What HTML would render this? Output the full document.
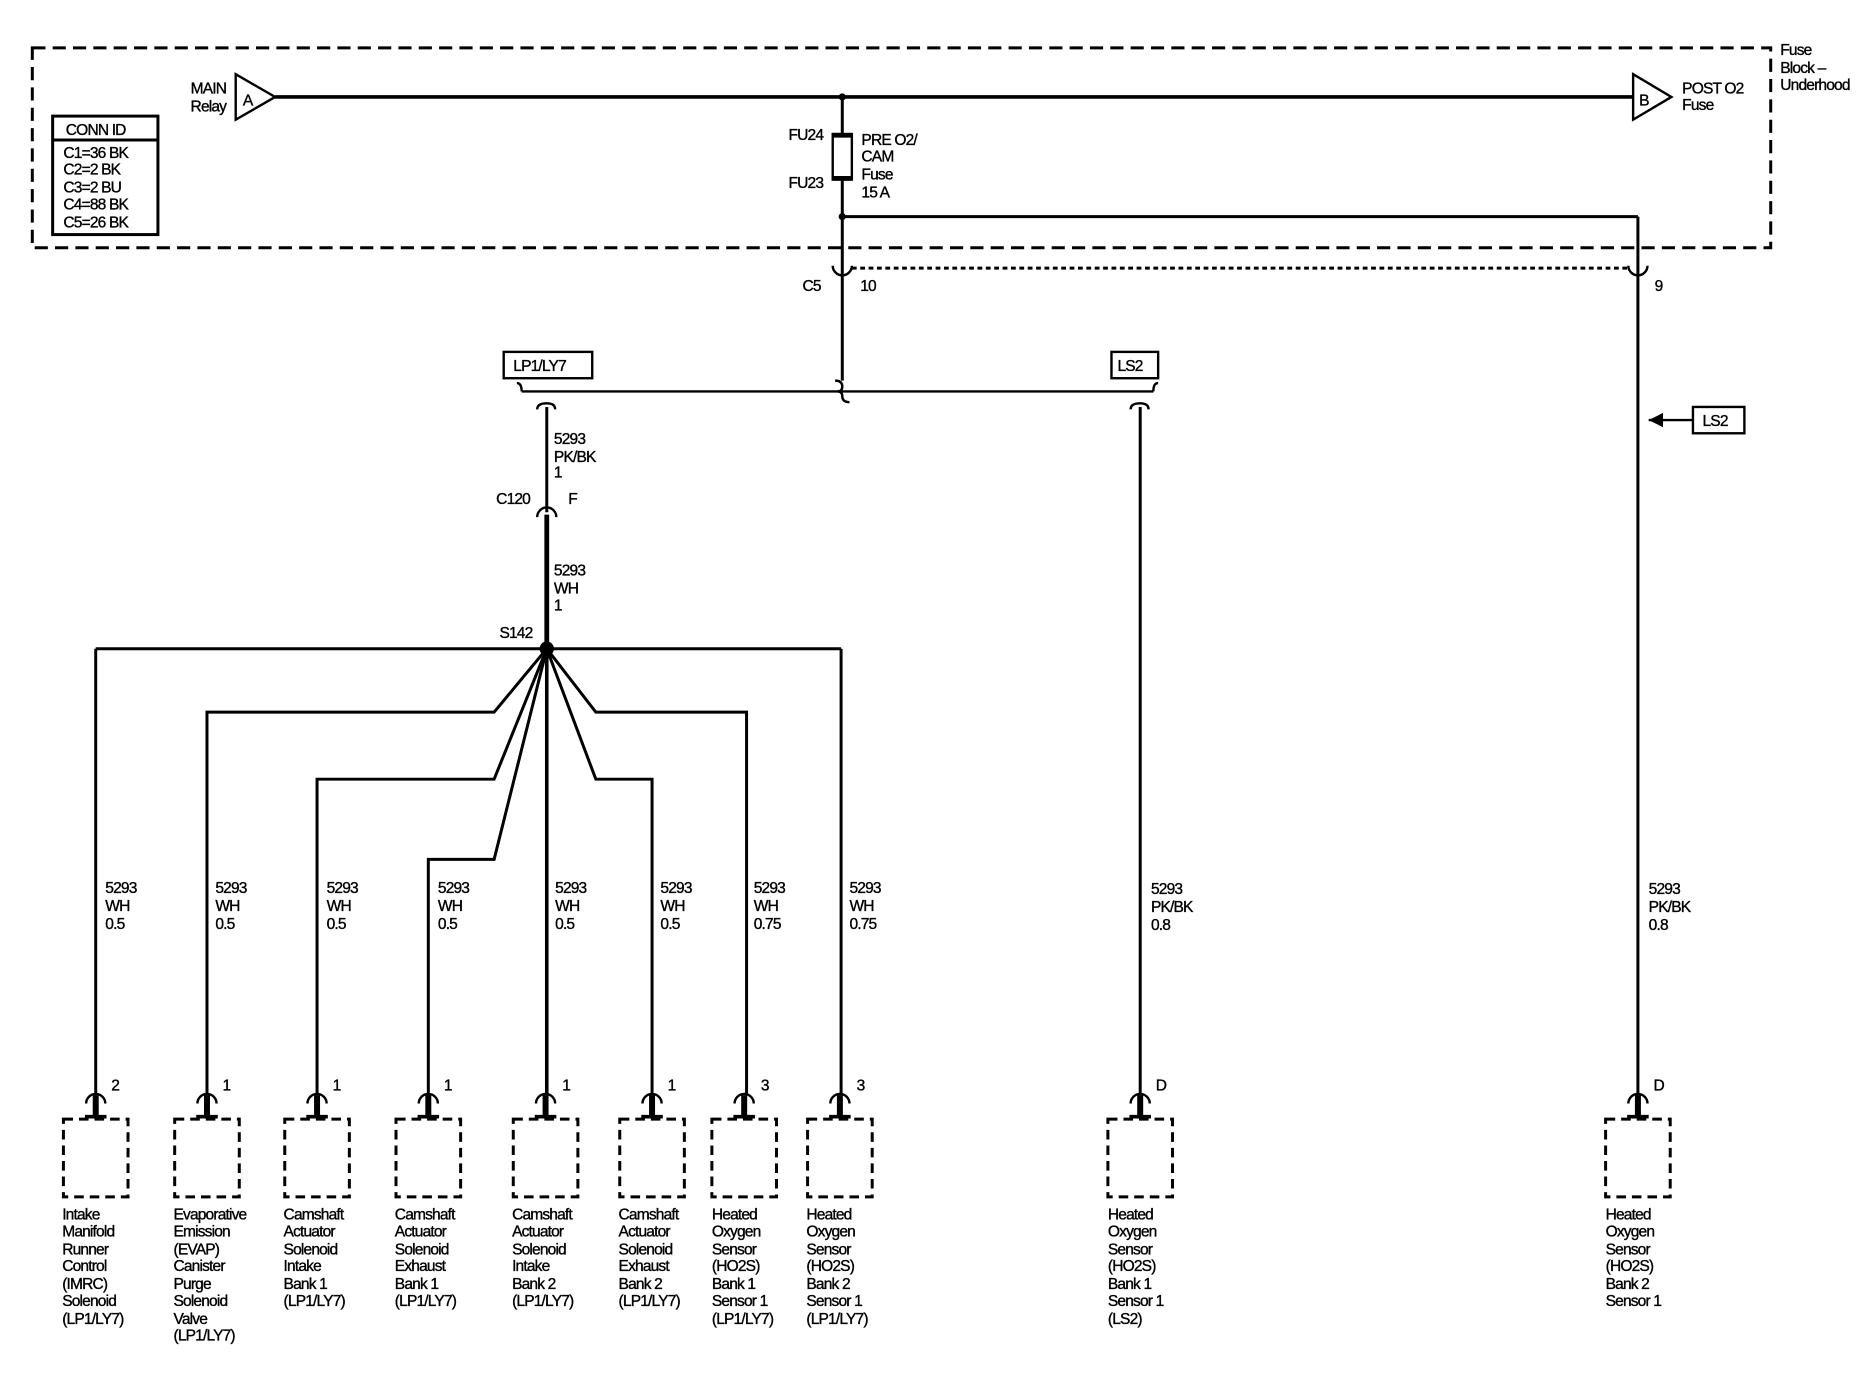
<!DOCTYPE html>
<html><head><meta charset="utf-8"><style>
html,body{margin:0;padding:0;background:#fff}
svg{display:block}
text{font-family:"Liberation Sans",Arial,sans-serif;font-size:13px;fill:#000;letter-spacing:-0.7px;stroke:#000;stroke-width:0.3px}
</style></head><body>
<svg width="1876" height="1392" viewBox="0 0 1568 1163" preserveAspectRatio="none" xmlns="http://www.w3.org/2000/svg">
<g fill="none" stroke="#000">
<rect x="27" y="40" width="1453" height="167" stroke-width="2.5" stroke-dasharray="11 6"/>
<line x1="230" y1="81" x2="1365" y2="81" stroke-width="3"/>
<polygon points="197,62 230,81 197,100" stroke-width="2" fill="#fff"/>
<polygon points="1365,62 1397,81 1365,100" stroke-width="2" fill="#fff"/>
<line x1="704" y1="81" x2="704" y2="318" stroke-width="2.5"/>
<rect x="696" y="112" width="16" height="38" stroke-width="2" fill="#fff"/>
<line x1="696" y1="113" x2="712" y2="113" stroke-width="4"/>
<line x1="696" y1="149" x2="712" y2="149" stroke-width="4"/>
<line x1="704" y1="181" x2="1369" y2="181" stroke-width="2.5"/>
<line x1="1369" y1="181" x2="1369" y2="915" stroke-width="2.5"/>
<rect x="44" y="97" width="88" height="99" stroke-width="2.5"/>
<line x1="44" y1="117" x2="132" y2="117" stroke-width="2.5"/>
<line x1="712" y1="224" x2="1361" y2="224" stroke-width="2.5" stroke-dasharray="4 3"/>
<path d="M696,222 a8,8 0 0 0 16,0" stroke-width="2"/>
<path d="M1361,222 a8,8 0 0 0 16,0" stroke-width="2"/>
<line x1="436" y1="327" x2="964" y2="327" stroke-width="2"/>
<path d="M432,320 q4,0 4,7 M964,327 q0,-7 4,-7 M698,318 q6,0 6,5 q0,4 -4,4 M700,327 q4,0 4,4 q0,5 6,5" stroke-width="2"/>
<rect x="421" y="294" width="74" height="22" stroke-width="2"/>
<rect x="929" y="294" width="39" height="22" stroke-width="2"/>
<path d="M449,342 q0,-5 8,-5 q7,0 7,5 M945,342 q0,-5 8,-5 q7,0 7,5" stroke-width="2"/>
<line x1="457" y1="340" x2="457" y2="428" stroke-width="2.5"/>
<path d="M449,432 a8,8 0 0 1 16,0" stroke-width="2"/>
<line x1="457" y1="430" x2="457" y2="542" stroke-width="4"/>
<line x1="953" y1="340" x2="953" y2="915" stroke-width="2.5"/>
<line x1="80" y1="542" x2="703" y2="542" stroke-width="2.5"/>
<line x1="80" y1="542" x2="80" y2="915" stroke-width="2.5"/>
<line x1="703" y1="542" x2="703" y2="915" stroke-width="2.5"/>
<polyline points="457,542 413,595 173,595 173,915" stroke-width="2.5"/>
<polyline points="457,542 413,651 265,651 265,915" stroke-width="2.5"/>
<polyline points="457,542 413,718 358,718 358,915" stroke-width="2.5"/>
<line x1="457" y1="542" x2="457" y2="915" stroke-width="3"/>
<polyline points="457,542 498,595 624,595 624,915" stroke-width="2.5"/>
<polyline points="457,542 498,651 545,651 545,915" stroke-width="2.5"/>
<line x1="1378" y1="351" x2="1415" y2="351" stroke-width="2"/>
<rect x="1415" y="340" width="43" height="22" stroke-width="2"/>
</g>
<circle cx="704" cy="81" r="3"/><circle cx="704" cy="181" r="3"/><circle cx="457" cy="542" r="6"/>
<polygon points="1378,351 1390,345 1390,357"/>
<g fill="none" stroke="#000" stroke-width="2">
<path d="M72,922 a8,8 0 0 1 16,0 M165,922 a8,8 0 0 1 16,0 M257,922 a8,8 0 0 1 16,0 M350,922 a8,8 0 0 1 16,0 M448,922 a8,8 0 0 1 16,0 M537,922 a8,8 0 0 1 16,0 M614,922 a8,8 0 0 1 16,0 M694,922 a8,8 0 0 1 16,0 M945,922 a8,8 0 0 1 16,0 M1361,922 a8,8 0 0 1 16,0"/>
<g stroke-width="5">
<path d="M80,915V932M173,915V932M265,915V932M358,915V932M456,915V932M545,915V932M622,915V932M702,915V932M953,915V932M1369,915V932"/>
<path d="M71,933H89M164,933H182M256,933H274M349,933H367M447,933H465M536,933H554M613,933H631M693,933H711M944,933H962M1360,933H1378" stroke-width="3"/>
</g>
<g stroke-width="2.5" stroke-dasharray="8 5">
<rect x="53" y="935" width="54" height="65"/><rect x="146" y="935" width="54" height="65"/><rect x="238" y="935" width="54" height="65"/><rect x="331" y="935" width="54" height="65"/><rect x="429" y="935" width="54" height="65"/><rect x="518" y="935" width="54" height="65"/><rect x="595" y="935" width="54" height="65"/><rect x="675" y="935" width="54" height="65"/><rect x="926" y="935" width="54" height="65"/><rect x="1342" y="935" width="54" height="65"/>
</g>
</g>
<text x="189" y="78" text-anchor="end">MAIN</text><text x="189" y="93" text-anchor="end">Relay</text>
<text x="203" y="88">A</text><text x="1370" y="88">B</text>
<text x="1406" y="78">POST O2</text><text x="1406" y="92">Fuse</text>
<text x="1488" y="46">Fuse</text><text x="1488" y="61">Block –</text><text x="1488" y="75">Underhood</text>
<text x="55" y="113">CONN ID</text>
<text x="53" y="132">C1=36 BK</text><text x="53" y="146">C2=2 BK</text><text x="53" y="161">C3=2 BU</text><text x="53" y="175">C4=88 BK</text><text x="53" y="190">C5=26 BK</text>
<text x="688" y="117" text-anchor="end">FU24</text><text x="688" y="157" text-anchor="end">FU23</text>
<text x="720" y="121">PRE O2/</text><text x="720" y="135">CAM</text><text x="720" y="150">Fuse</text><text x="720" y="165">15 A</text>
<text x="686" y="243" text-anchor="end">C5</text><text x="719" y="243">10</text><text x="1383" y="243">9</text>
<text x="429" y="310">LP1/LY7</text><text x="934" y="310">LS2</text><text x="1423" y="356">LS2</text>
<text x="463" y="371">5293</text><text x="463" y="386">PK/BK</text><text x="463" y="399">1</text>
<text x="443" y="421" text-anchor="end">C120</text><text x="475" y="421">F</text>
<text x="463" y="481">5293</text><text x="463" y="496">WH</text><text x="463" y="510">1</text>
<text x="445" y="533" text-anchor="end">S142</text>
<g>
<text x="88" y="746">5293</text><text x="88" y="761">WH</text><text x="88" y="776">0.5</text>
<text x="180" y="746">5293</text><text x="180" y="761">WH</text><text x="180" y="776">0.5</text>
<text x="273" y="746">5293</text><text x="273" y="761">WH</text><text x="273" y="776">0.5</text>
<text x="366" y="746">5293</text><text x="366" y="761">WH</text><text x="366" y="776">0.5</text>
<text x="464" y="746">5293</text><text x="464" y="761">WH</text><text x="464" y="776">0.5</text>
<text x="552" y="746">5293</text><text x="552" y="761">WH</text><text x="552" y="776">0.5</text>
<text x="630" y="746">5293</text><text x="630" y="761">WH</text><text x="630" y="776">0.75</text>
<text x="710" y="746">5293</text><text x="710" y="761">WH</text><text x="710" y="776">0.75</text>
<text x="962" y="747">5293</text><text x="962" y="762">PK/BK</text><text x="962" y="777">0.8</text>
<text x="1378" y="747">5293</text><text x="1378" y="762">PK/BK</text><text x="1378" y="777">0.8</text>
</g>
<text x="93" y="911">2</text><text x="186" y="911">1</text><text x="278" y="911">1</text><text x="371" y="911">1</text><text x="470" y="911">1</text><text x="558" y="911">1</text><text x="636" y="911">3</text><text x="716" y="911">3</text><text x="966" y="911">D</text><text x="1382" y="911">D</text>
<g>
<text x="52" y="1019">Intake</text><text x="52" y="1033">Manifold</text><text x="52" y="1048">Runner</text><text x="52" y="1062">Control</text><text x="52" y="1077">(IMRC)</text><text x="52" y="1091">Solenoid</text><text x="52" y="1106">(LP1/LY7)</text>
<text x="145" y="1019">Evaporative</text><text x="145" y="1033">Emission</text><text x="145" y="1048">(EVAP)</text><text x="145" y="1062">Canister</text><text x="145" y="1077">Purge</text><text x="145" y="1091">Solenoid</text><text x="145" y="1106">Valve</text><text x="145" y="1120">(LP1/LY7)</text>
<text x="237" y="1019">Camshaft</text><text x="237" y="1033">Actuator</text><text x="237" y="1048">Solenoid</text><text x="237" y="1062">Intake</text><text x="237" y="1077">Bank 1</text><text x="237" y="1091">(LP1/LY7)</text>
<text x="330" y="1019">Camshaft</text><text x="330" y="1033">Actuator</text><text x="330" y="1048">Solenoid</text><text x="330" y="1062">Exhaust</text><text x="330" y="1077">Bank 1</text><text x="330" y="1091">(LP1/LY7)</text>
<text x="428" y="1019">Camshaft</text><text x="428" y="1033">Actuator</text><text x="428" y="1048">Solenoid</text><text x="428" y="1062">Intake</text><text x="428" y="1077">Bank 2</text><text x="428" y="1091">(LP1/LY7)</text>
<text x="517" y="1019">Camshaft</text><text x="517" y="1033">Actuator</text><text x="517" y="1048">Solenoid</text><text x="517" y="1062">Exhaust</text><text x="517" y="1077">Bank 2</text><text x="517" y="1091">(LP1/LY7)</text>
<text x="595" y="1019">Heated</text><text x="595" y="1033">Oxygen</text><text x="595" y="1048">Sensor</text><text x="595" y="1062">(HO2S)</text><text x="595" y="1077">Bank 1</text><text x="595" y="1091">Sensor 1</text><text x="595" y="1106">(LP1/LY7)</text>
<text x="674" y="1019">Heated</text><text x="674" y="1033">Oxygen</text><text x="674" y="1048">Sensor</text><text x="674" y="1062">(HO2S)</text><text x="674" y="1077">Bank 2</text><text x="674" y="1091">Sensor 1</text><text x="674" y="1106">(LP1/LY7)</text>
<text x="926" y="1019">Heated</text><text x="926" y="1033">Oxygen</text><text x="926" y="1048">Sensor</text><text x="926" y="1062">(HO2S)</text><text x="926" y="1077">Bank 1</text><text x="926" y="1091">Sensor 1</text><text x="926" y="1106">(LS2)</text>
<text x="1342" y="1019">Heated</text><text x="1342" y="1033">Oxygen</text><text x="1342" y="1048">Sensor</text><text x="1342" y="1062">(HO2S)</text><text x="1342" y="1077">Bank 2</text><text x="1342" y="1091">Sensor 1</text>
</g>
</svg>
</body></html>
